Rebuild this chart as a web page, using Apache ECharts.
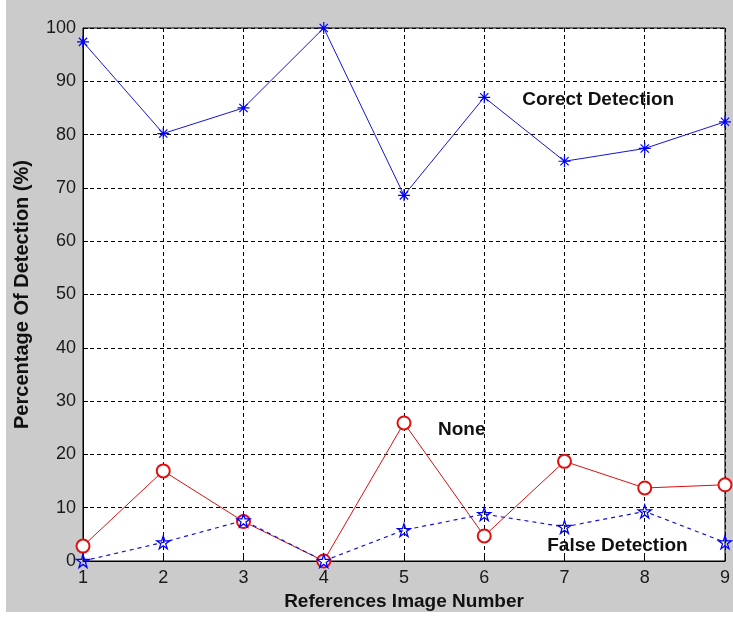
<!DOCTYPE html>
<html><head><meta charset="utf-8">
<script src="https://cdn.jsdelivr.net/npm/echarts@6/dist/echarts.min.js"></script>
<style>
html,body{margin:0;padding:0;background:#fff;}
#bg{position:absolute;left:6px;top:0;width:727px;height:612px;background:#cbcbcb;}
#main{position:absolute;left:0;top:0;width:733px;height:621px;}
</style></head>
<body>
<div id="bg"></div>
<div id="main"></div>
<script>
var categories = [1,2,3,4,5,6,7,8,9];
var correctDetection = [97.4, 80.2, 85.0, 100, 68.6, 87.0, 75.0, 77.4, 82.4];
var none = [2.8, 16.9, 7.4, 0, 25.9, 4.7, 18.7, 13.7, 14.3];
var falseDetection = [0, 3.5, 7.6, 0, 5.8, 8.8, 6.4, 9.3, 3.5];
var yTicks = [0,10,20,30,40,50,60,70,80,90,100];
var annotations = [
  {text:'Corect Detection', x:7.42, y:86.6},
  {text:'None', x:5.72, y:24.6},
  {text:'False Detection', x:7.66, y:2.9}
];

function pairs(vals){ return categories.map(function(c,i){return [c, vals[i]];}); }

var asterisk = 'path://M4.5,0 L5.5,0 L5.5,4.5 L10,4.5 L10,5.5 L5.5,5.5 L5.5,10 L4.5,10 L4.5,5.5 L0,5.5 L0,4.5 L4.5,4.5 Z ' +
  'M1.2,1.9 L1.9,1.2 L8.8,8.1 L8.1,8.8 Z M8.1,1.2 L8.8,1.9 L1.9,8.8 L1.2,8.1 Z';
var pentagram = 'path://M50,0 L61.8,36.2 L100,36.2 L69.1,58.6 L80.9,95.1 L50,72.7 L19.1,95.1 L30.9,58.6 L0,36.2 L38.2,36.2 Z';

var chart = echarts.init(document.getElementById('main'), null, {renderer:'canvas'});
var gridLine = {show:true, lineStyle:{color:'#000', type:[4,3], width:1}};
var fam = 'Liberation Sans, Arial, sans-serif';
var fontTick = {color:'#1a1a1a', fontSize:18, fontFamily:fam};
var option = {
  animation:false,
  backgroundColor:'transparent',
  grid:{left:83, right:5, top:28, bottom:60, show:true, borderColor:'#000', borderWidth:1, backgroundColor:'#fff'},
  xAxis:{
    type:'value', min:1, max:9, interval:1,
    axisLine:{show:true, lineStyle:{color:'#000', width:1}},
    axisTick:{show:true, inside:true, length:5, lineStyle:{color:'#000'}},
    axisLabel:Object.assign({margin:8}, fontTick),
    splitLine:gridLine,
    name:'References Image Number', nameLocation:'middle', nameGap:28,
    nameTextStyle:{fontSize:19, fontWeight:'bold', color:'#111', fontFamily:fam}
  },
  yAxis:{
    type:'value', min:0, max:100, interval:10,
    axisLine:{show:true, lineStyle:{color:'#000', width:1}},
    axisTick:{show:true, inside:true, length:5, lineStyle:{color:'#000'}},
    axisLabel:Object.assign({margin:7, formatter:function(v){return yTicks.indexOf(v)>=0?String(v):'';}}, fontTick),
    splitLine:gridLine,
    name:'Percentage Of Detection (%)', nameLocation:'middle', nameGap:51,
    nameTextStyle:{fontSize:20, fontWeight:'bold', color:'#111', fontFamily:fam}
  },
  series:[
    {
      name:'Corect Detection', type:'line', data:pairs(correctDetection),
      symbol:asterisk, symbolSize:12,
      lineStyle:{color:'#1414d8', width:1},
      itemStyle:{color:'#0000ff'},
      markPoint:{
        symbol:'rect', symbolSize:1, itemStyle:{color:'transparent'},
        label:{show:true, position:'inside', color:'#111', fontSize:19, fontWeight:'bold', fontFamily:fam, formatter:function(p){return p.name;}},
        data:annotations.map(function(a){return {name:a.text, coord:[a.x,a.y]};})
      }
    },
    {
      name:'None', type:'line', data:pairs(none),
      symbol:'emptyCircle', symbolSize:13,
      lineStyle:{color:'#d81010', width:1},
      itemStyle:{color:'#e01010', borderColor:'#e01010', borderWidth:1}
    },
    {
      name:'False Detection', type:'line', data:pairs(falseDetection),
      symbol:pentagram, symbolSize:13,
      lineStyle:{color:'#1414d8', width:1.2, type:[4,4]},
      itemStyle:{color:'rgba(255,255,255,0)', borderColor:'#0000ff', borderWidth:1.3}
    }
  ]
};
chart.setOption(option);
</script>
</body></html>
